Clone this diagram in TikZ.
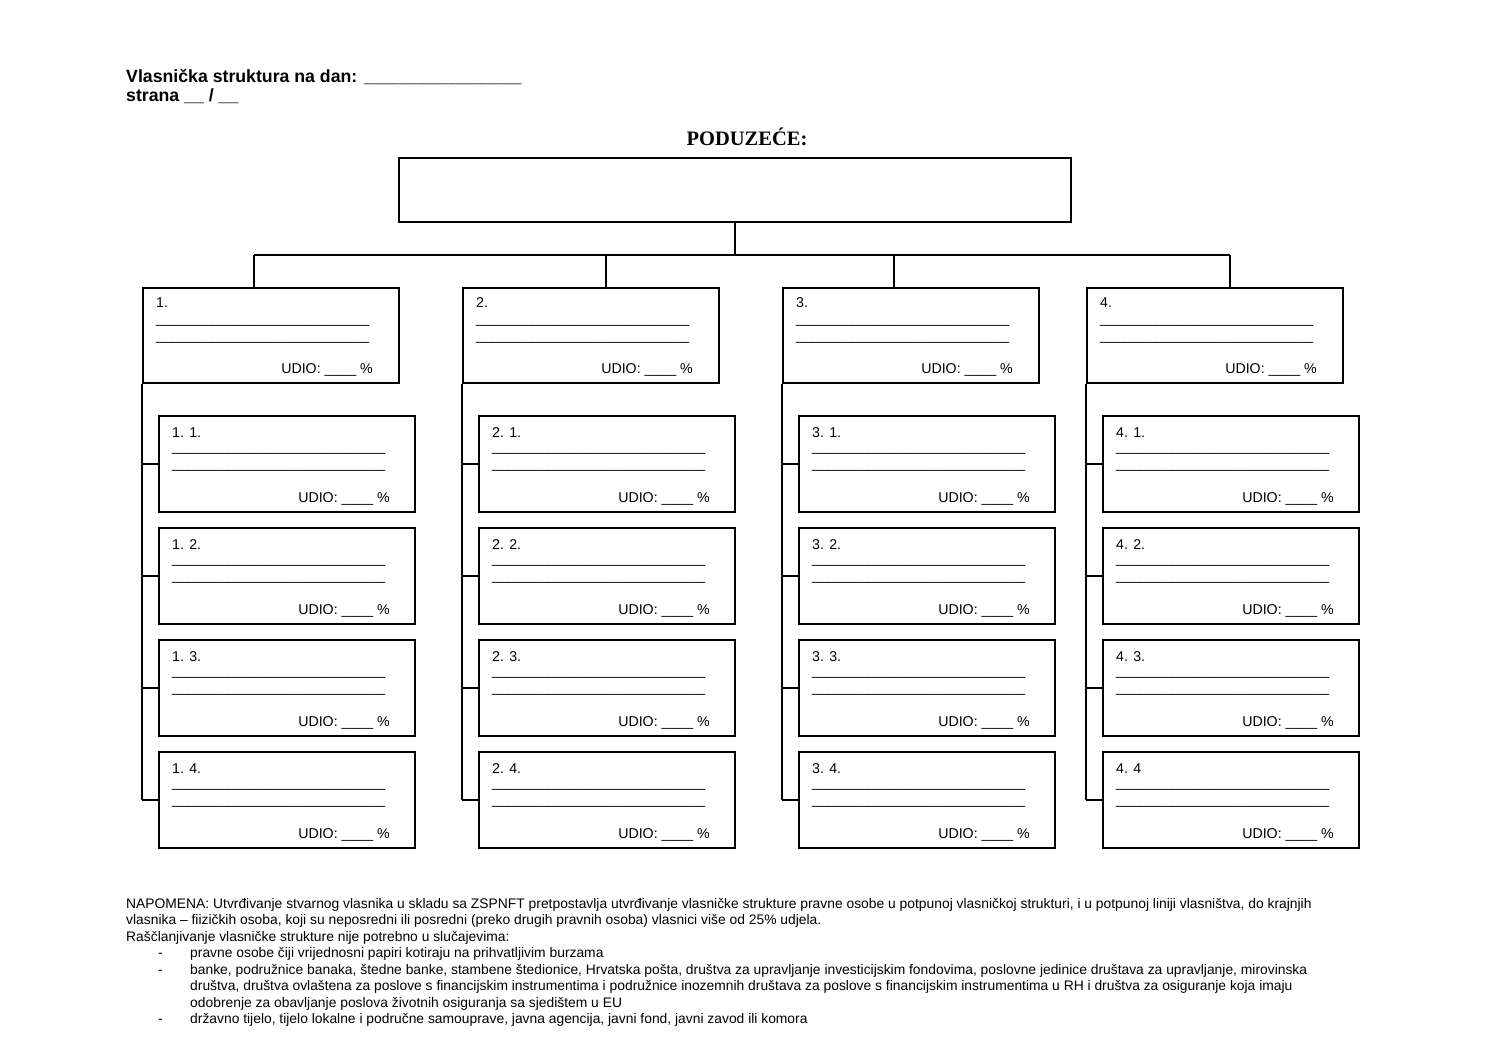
\documentclass[tikz,border=0pt]{standalone}
\usepackage{fontspec}
\setmainfont{Liberation Sans}
\newfontfamily\serifface{Liberation Serif}
\usetikzlibrary{calc}
\newcommand\blanksline{\_\_\_\_\_\_\_\_\_\_\_\_\_\_\_\_\_\_\_\_\_\_\_\_\_\_\_}
\begin{document}
\begin{tikzpicture}[x=1pt,y=-1pt,
  box/.style={draw, line width=1.5pt, minimum width=256pt, inner sep=0pt, anchor=north west},
  topbox/.style={draw, line width=1.5pt, minimum width=672pt, minimum height=64pt, inner sep=0pt, anchor=north west},
  link/.style={line width=1.5pt},
  txt/.style={anchor=base west, inner sep=0pt, font=\fontsize{14.2}{17}\selectfont},
  txtr/.style={anchor=base east, inner sep=0pt, font=\fontsize{14.2}{17}\selectfont},
  head/.style={anchor=base west, inner sep=0pt, font=\fontsize{17.7}{21}\selectfont\bfseries},
  note/.style={anchor=base west, inner sep=0pt, font=\fontsize{13.85}{16}\selectfont}]
\useasboundingbox (0,0) rectangle (1497,1058);
% header
\node[head] (h1) at (126,82) {Vlasnička struktura na dan: \_\_\_\_\_\_\_\_\_\_\_\_\_\_\_\_};
\node[head] (h2) at (126,101) {strana \_\_ / \_\_};
\node[anchor=base, inner sep=0pt, font=\serifface\bfseries\fontsize{20.5}{24}\selectfont] (pt) at (747,145) {PODUZEĆE:};
% top box
\node[topbox] (top) at (398,157) {};
\coordinate (bus) at (0,255);
% level 1 boxes
\foreach \i/\x/\d in {1/142/112,2/462/144,3/782/112,4/1086/144}{
  \node[box, minimum height=95pt] (b\i) at (\x,287) {};
  \coordinate (d\i) at ($(b\i.north west)+(\d,0)$);
  \node[txt] (b\i l) at ($(b\i.north west)+(14,20)$) {\i.};
  \node[txt] (b\i u1) at ($(b\i.north west)+(14,36)$) {\blanksline};
  \node[txt] (b\i u2) at ($(b\i.north west)+(14,53)$) {\blanksline};
  \node[txtr] (b\i p) at ($(b\i.north west)+(231,86)$) {UDIO: \_\_\_\_ \%};
  \foreach \j/\y in {1/415,2/527,3/639,4/751}{
    \pgfmathtruncatemacro\xx{\x+16}
    \def\lab{\i. \j.}
    \ifnum\i\j=44 \def\lab{4. 4}\fi
    \node[box, minimum height=96pt] (c\i\j) at (\xx,\y) {};
    \node[txt] (c\i\j l) at ($(c\i\j.north west)+(14,22)$) {\lab};
    \node[txt] (c\i\j u1) at ($(c\i\j.north west)+(14,36)$) {\blanksline};
    \node[txt] (c\i\j u2) at ($(c\i\j.north west)+(14,53)$) {\blanksline};
    \node[txtr] (c\i\j p) at ($(c\i\j.north west)+(232,87)$) {UDIO: \_\_\_\_ \%};
    \draw[link] (b\i.south west |- c\i\j.west) -- (c\i\j.west);
  }
  \draw[link] (b\i.south west) -- (b\i.south west |- c\i4.west);
  \draw[link] (d\i |- bus) -- (d\i);
}
\draw[link] (top.south) -- (top.south |- bus);
\draw[link] (d1 |- bus) -- (d4 |- bus);
% note
\node[note] (n1) at (126,908) {NAPOMENA: Utvrđivanje stvarnog vlasnika u skladu sa ZSPNFT pretpostavlja utvrđivanje vlasničke strukture pravne osobe u potpunoj vlasničkoj strukturi, i u potpunoj liniji vlasništva, do krajnjih};
\node[note] (n2) at (126,924.5) {vlasnika – fiizičkih osoba, koji su neposredni ili posredni (preko drugih pravnih osoba) vlasnici više od 25\% udjela.};
\node[note] (n3) at (126,941) {Raščlanjivanje vlasničke strukture nije potrebno u slučajevima:};
\node[note] (m1) at (158,957.5) {-};
\node[note] (n4) at (190,957.5) {pravne osobe čiji vrijednosni papiri kotiraju na prihvatljivim burzama};
\node[note] (m2) at (158,974) {-};
\node[note] (n5) at (190,974) {banke, podružnice banaka, štedne banke, stambene štedionice, Hrvatska pošta, društva za upravljanje investicijskim fondovima, poslovne jedinice društava za upravljanje, mirovinska};
\node[note] (n6) at (190,990.5) {društva, društva ovlaštena za poslove s financijskim instrumentima i podružnice inozemnih društava za poslove s financijskim instrumentima u RH i društva za osiguranje koja imaju};
\node[note] (n7) at (190,1007) {odobrenje za obavljanje poslova životnih osiguranja sa sjedištem u EU};
\node[note] (m3) at (158,1023.5) {-};
\node[note] (n8) at (190,1023.5) {državno tijelo, tijelo lokalne i područne samouprave, javna agencija, javni fond, javni zavod ili komora};
\end{tikzpicture}
\end{document}
